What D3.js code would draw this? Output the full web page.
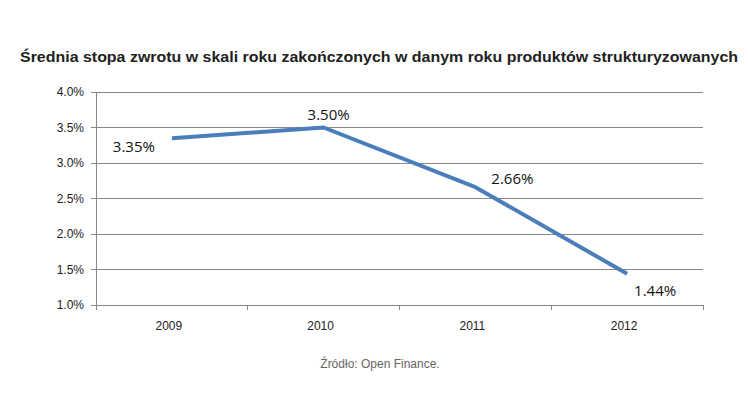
<!DOCTYPE html>
<html><head><meta charset="utf-8">
<script src="https://cdn.jsdelivr.net/npm/d3@7"></script>
<style>body{margin:0;background:#fff}</style>
</head><body>
<script>
var years = ['2009', '2010', '2011', '2012'];
var rates = [3.35, 3.50, 2.66, 1.44];
var yTicks = [1.0, 1.5, 2.0, 2.5, 3.0, 3.5, 4.0];

var svg = d3.select('body').append('svg').attr('width', 749).attr('height', 417);
var pLeft = 96, pRight = 703, pTop = 92, pBottom = 305;

var x = d3.scaleBand().domain(years).range([pLeft, pRight]);
var y = d3.scaleLinear().domain([1, 4]).range([pBottom, pTop]);

svg.append('text').attr('x', 20).attr('y', 62)
	.attr('font-family', 'Liberation Sans, Arial').attr('font-weight', 'bold')
	.attr('font-size', 15).attr('fill', '#222')
	.attr('textLength', 718).attr('lengthAdjust', 'spacingAndGlyphs')
	.text('Średnia stopa zwrotu w skali roku zakończonych w danym roku produktów strukturyzowanych');

svg.selectAll('.grid').data(yTicks).enter().append('line')
	.attr('x1', pLeft).attr('x2', pRight)
	.attr('y1', function(d){return y(d)}).attr('y2', function(d){return y(d)})
	.attr('stroke', '#888').attr('stroke-width', 1).attr('shape-rendering', 'crispEdges');

svg.selectAll('.yl').data(yTicks).enter().append('text')
	.attr('x', 84).attr('y', function(d){return y(d) + 4})
	.attr('text-anchor', 'end').attr('font-family', 'Liberation Sans, Arial').attr('font-size', 12)
	.attr('fill', '#222').text(function(d){return d.toFixed(1) + '%'});

svg.append('line').attr('x1', pLeft).attr('x2', pLeft).attr('y1', pTop).attr('y2', pBottom)
	.attr('stroke', '#888').attr('shape-rendering', 'crispEdges');
svg.selectAll('.yt').data(yTicks).enter().append('line')
	.attr('x1', pLeft - 5).attr('x2', pLeft).attr('y1', function(d){return y(d)}).attr('y2', function(d){return y(d)})
	.attr('stroke', '#888').attr('shape-rendering', 'crispEdges');
svg.selectAll('.xt').data(years.concat(['end'])).enter().append('line')
	.attr('x1', function(d, i){return pLeft + i * x.bandwidth()})
	.attr('x2', function(d, i){return pLeft + i * x.bandwidth()})
	.attr('y1', pBottom).attr('y2', pBottom + 5)
	.attr('stroke', '#888').attr('shape-rendering', 'crispEdges');

svg.selectAll('.xl').data(years).enter().append('text')
	.attr('x', function(d){return x(d) + x.bandwidth() / 2 - 3}).attr('y', 330)
	.attr('text-anchor', 'middle').attr('font-family', 'Liberation Sans, Arial').attr('font-size', 12)
	.attr('fill', '#222').text(function(d){return d});

var line = d3.line().x(function(d, i){return x(years[i]) + x.bandwidth() / 2}).y(function(d){return y(d)});
svg.append('path').datum(rates).attr('d', line).attr('fill', 'none')
	.attr('stroke', '#4a7ebb').attr('stroke-width', 4).attr('stroke-linejoin', 'round');

var offs = [[-38, 14], [5, -8], [37, -3], [28, 22]];
svg.selectAll('.dl').data(rates).enter().append('text')
	.attr('x', function(d, i){return x(years[i]) + x.bandwidth() / 2 + offs[i][0]})
	.attr('y', function(d, i){return y(d) + offs[i][1]})
	.attr('text-anchor', 'middle').attr('font-family', 'Open Sans, sans-serif').attr('font-size', 15)
	.attr('fill', '#111').text(function(d){return d.toFixed(2) + '%'});

svg.append('text').attr('x', 380).attr('y', 368).attr('text-anchor', 'middle')
	.attr('font-family', 'Liberation Sans, Arial').attr('font-size', 12).attr('fill', '#666')
	.text('Źródło: Open Finance.');
</script>
</body></html>
